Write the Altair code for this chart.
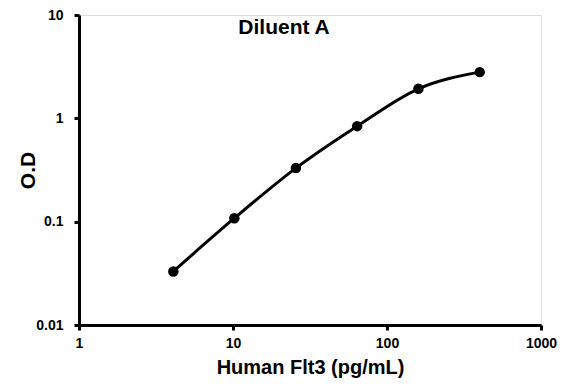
import altair as alt
import pandas as pd

conc = [4.1, 10.2, 25.6, 64.0, 160.0, 400.0]
od = [0.033, 0.108, 0.33, 0.84, 1.93, 2.80]
x_ticks = [1, 10, 100, 1000]
y_ticks = [0.01, 0.1, 1, 10]

df = pd.DataFrame({"conc": conc, "od": od})

FONT = "Liberation Sans"

x = alt.X("conc:Q", scale=alt.Scale(type="log", domain=[1, 1000], nice=False),
          axis=alt.Axis(title="Human Flt3 (pg/mL)", values=x_ticks, format="~g", grid=False,
                        domainWidth=3, domainColor="black", tickWidth=3, tickColor="black",
                        tickSize=5, labelFont=FONT, labelFontSize=14, labelFontWeight="bold",
                        labelColor="black", labelPadding=6, titleFont=FONT, titleFontSize=20,
                        titleFontWeight="bold", titleColor="black", titlePadding=7,
                        labelFlush=False))
y = alt.Y("od:Q", scale=alt.Scale(type="log", domain=[0.01, 10], nice=False),
          axis=alt.Axis(title="O.D", values=y_ticks, format="~g", grid=False,
                        domainWidth=3, domainColor="black", tickWidth=3, tickColor="black",
                        tickSize=5, labelFont=FONT, labelFontSize=14, labelFontWeight="bold",
                        labelColor="black", labelPadding=11, titleFont=FONT, titleFontSize=21,
                        titleFontWeight="bold", titleColor="black", titlePadding=-3,
                        labelFlush=False))

base = alt.Chart(df).encode(x=x, y=y)
line = base.mark_line(color="black", strokeWidth=3, interpolate="monotone")
pts = base.mark_point(filled=True, color="black", size=110, opacity=1)

chart = (line + pts).properties(
    width=462, height=310,
    autosize=alt.AutoSizeParams(type="none"),
    padding={"left": 71, "top": 7, "right": 20, "bottom": 54},
    title=alt.TitleParams("Diluent A", font=FONT, fontSize=21, fontWeight="bold",
                          color="black", anchor="middle", dx=-26, dy=34),
).configure_view(stroke=None).configure(background="white")

chart.save("out.html", embed_options={"renderer": "svg", "actions": False})
